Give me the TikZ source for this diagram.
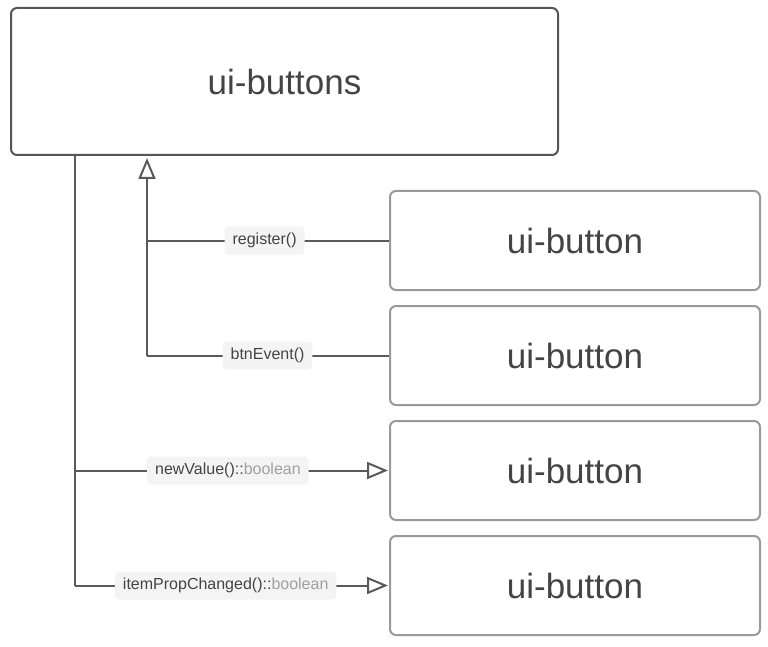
\documentclass[tikz,border=0pt]{standalone}
\usepackage{fontspec}
\setmainfont{Liberation Sans}
\usetikzlibrary{arrows.meta}
\definecolor{linec}{HTML}{5A5A5A}
\definecolor{topc}{HTML}{555555}
\definecolor{btnc}{HTML}{9A9A9A}
\definecolor{txtc}{HTML}{444444}
\definecolor{lblfill}{HTML}{F4F4F4}
\definecolor{typec}{HTML}{A0A0A0}
\tikzset{
  bigbox/.style={draw=topc, line width=2pt, rounded corners=6pt, minimum width=547pt, minimum height=147pt, text=txtc, font=\fontsize{35}{40}\selectfont, inner sep=0pt},
  btnbox/.style={draw=btnc, line width=2pt, rounded corners=6pt, minimum width=370pt, minimum height=99pt, text=txtc, font=\fontsize{35}{40}\selectfont, inner sep=0pt},
  conn/.style={draw=linec, line width=2pt},
  opentip/.style={-{Triangle[open, width=17pt, length=21pt, line width=2pt]}},
  lbl/.style={fill=lblfill, rounded corners=4pt, text=txtc, font=\fontsize{16}{19}\selectfont, inner xsep=8pt, minimum height=28pt, inner ysep=0pt},
}
\begin{document}
\begin{tikzpicture}[x=1pt, y=-1pt]
\useasboundingbox[fill=white] (0,0) rectangle (768,647);
\node[bigbox] (top) at (284.5,81.5) {ui-buttons};
\node[btnbox] (b1) at (575,240.5) {ui-button};
\node[btnbox] (b2) at (575,355.5) {ui-button};
\node[btnbox] (b3) at (575,470.5) {ui-button};
\node[btnbox] (b4) at (575,585.5) {ui-button};
\coordinate (t1) at ([xshift=65pt]top.south west);
\coordinate (t2) at ([xshift=137pt]top.south west);
\coordinate (j1) at (t2 |- b1.west);
\coordinate (j2) at (t2 |- b2.west);
\coordinate (j3) at (t1 |- b3.west);
\coordinate (j4) at (t1 |- b4.west);
% vertical trunks
\draw[conn] (t1) -- (j4);
\draw[conn, opentip, shorten >=2pt] (j2) -- (t2);
% horizontal branches
\draw[conn] (j1) -- (b1.west) node[lbl, pos=0.486] (l1) {register()};
\draw[conn] (j2) -- (b2.west) node[lbl, pos=0.498] (l2) {btnEvent()};
\draw[conn, opentip, shorten >=1pt] (j3) -- (b3.west) node[lbl, pos=0.487] (l3) {newValue()::\textcolor{typec}{boolean}};
\draw[conn, opentip, shorten >=1pt] (j4) -- (b4.west) node[lbl, pos=0.48] (l4) {itemPropChanged()::\textcolor{typec}{boolean}};
\end{tikzpicture}
\end{document}
